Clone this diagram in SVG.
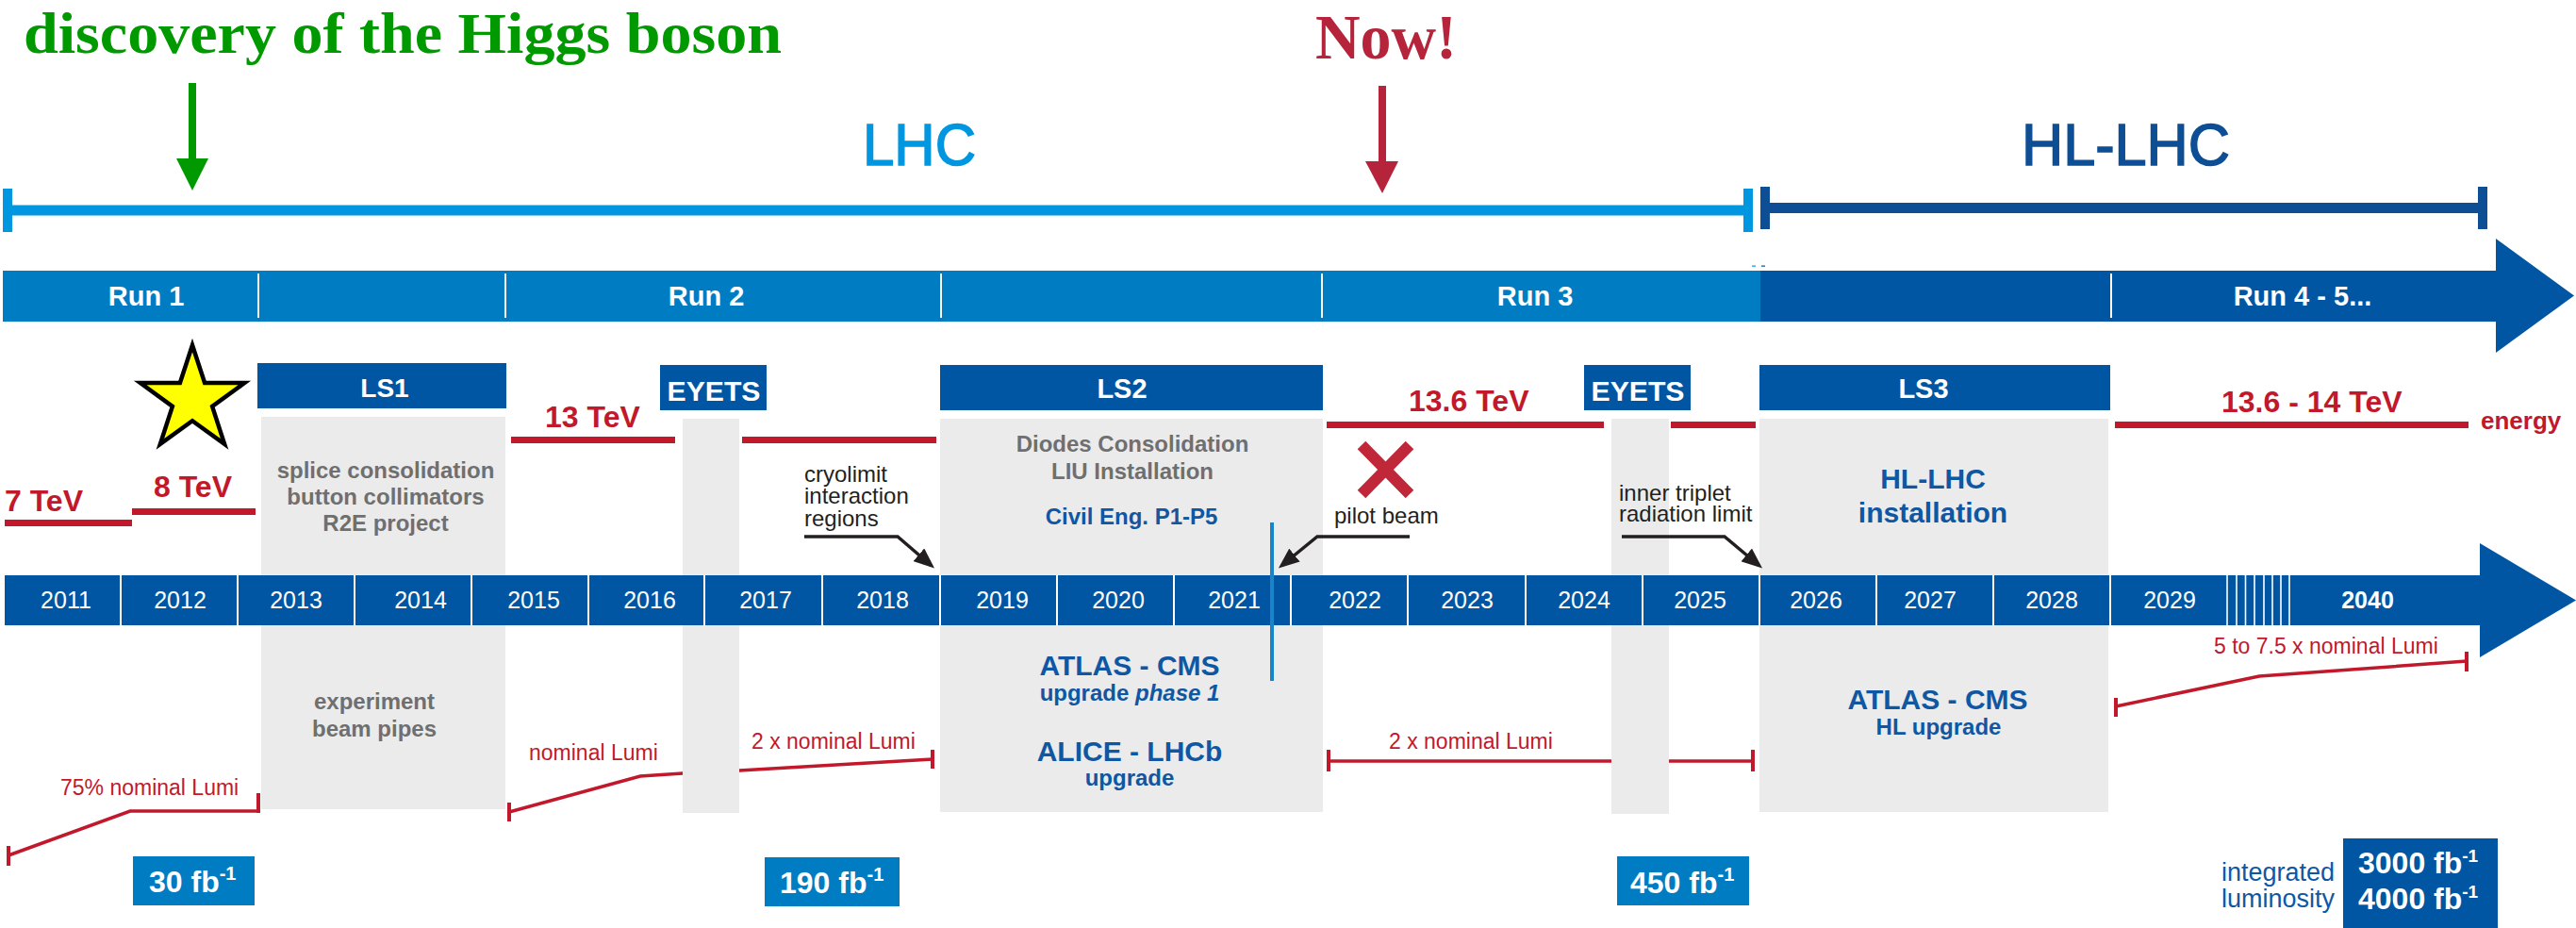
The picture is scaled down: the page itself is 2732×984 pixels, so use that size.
<svg xmlns="http://www.w3.org/2000/svg" width="2732" height="984" viewBox="0 0 2732 984">
<style>
text{font-family:"Liberation Sans",Arial,Helvetica,sans-serif}
.serif{font-family:"Liberation Serif","Times New Roman",serif;font-weight:bold}
.wb{fill:#fff;font-weight:bold;text-anchor:middle}
.yr{fill:#fff;font-size:25px;text-anchor:middle}
.en{fill:#c1192b;font-weight:bold;font-size:32px}
.gt{fill:#6f6f6f;font-weight:bold;font-size:24px;text-anchor:middle}
.bt{fill:#0f57a3;font-weight:bold;text-anchor:middle}
.kt{fill:#231f20;font-size:24px}
.lt{fill:#c1192b;font-size:23px}
.rl{fill:#c1192b}
.gray{fill:#ebebeb}
.dk{fill:#0056a2}
.lb{fill:#007cc2}
.lumi{stroke:#c1192b;stroke-width:3.5;fill:none}
.tick{stroke:#c1192b;stroke-width:4}
.call{stroke:#231f20;stroke-width:3.5;fill:none;marker-end:url(#ah)}
.sep{stroke:#fff;stroke-width:2}
.fb{fill:#fff;font-weight:bold;font-size:32px}
</style>
<defs>
<marker id="ah" markerUnits="userSpaceOnUse" markerWidth="22" markerHeight="18" refX="18" refY="9" orient="auto">
<path d="M0,0 L22,9 L0,18 z" fill="#231f20"/>
</marker>
</defs>

<!-- headline annotations -->
<g id="higgs-discovery">
<text class="serif" x="25" y="56" font-size="62" fill="#009a00" textLength="804" lengthAdjust="spacingAndGlyphs">discovery of the Higgs boson</text>
<rect x="200" y="88" width="8" height="82" fill="#009a00"/>
<polygon points="187,168 221,168 204,202" fill="#009a00"/>
</g>
<g id="now">
<text class="serif" x="1395" y="62" font-size="68" fill="#b5243a" textLength="150" lengthAdjust="spacingAndGlyphs">Now!</text>
<rect x="1462" y="91" width="8" height="82" fill="#b5243a"/>
<polygon points="1448,171 1483,171 1466,205" fill="#b5243a"/>
</g>

<!-- LHC / HL-LHC spans -->
<g id="lhc-span">
<text x="915" y="175" font-size="63" fill="#0096e0" stroke="#0096e0" stroke-width="1.5" textLength="120" lengthAdjust="spacingAndGlyphs">LHC</text>
<rect x="3" y="217.5" width="1850" height="11" fill="#0096e0"/>
<rect x="3" y="200" width="10" height="46" fill="#0096e0"/>
<rect x="1849" y="200" width="10" height="46" fill="#0096e0"/>
<rect x="1858" y="281.5" width="4" height="1.2" fill="#0096e0"/>
</g>
<g id="hllhc-span">
<text x="2144" y="175" font-size="63" fill="#0d4e94" stroke="#0d4e94" stroke-width="1.5" textLength="221" lengthAdjust="spacingAndGlyphs">HL-LHC</text>
<rect x="1872" y="215" width="760" height="11" fill="#0d4e94"/>
<rect x="1867" y="198" width="10" height="45" fill="#0d4e94"/>
<rect x="2628" y="198" width="10" height="45" fill="#0d4e94"/>
<rect x="1868" y="281.5" width="4" height="1.2" fill="#0d4e94"/>
</g>

<!-- Run bar -->
<g id="run-bar">
<rect class="lb" x="3" y="287" width="1864" height="54"/>
<rect class="dk" x="1867" y="287" width="781" height="54"/>
<polygon class="dk" points="2647,253 2730,313.5 2647,374"/>
<line class="sep" x1="274" y1="290" x2="274" y2="337"/>
<line class="sep" x1="536" y1="290" x2="536" y2="337"/>
<line class="sep" x1="998" y1="290" x2="998" y2="337"/>
<line class="sep" x1="1402" y1="290" x2="1402" y2="337"/>
<line class="sep" x1="2239" y1="290" x2="2239" y2="337"/>
<text class="wb" x="155" y="324" font-size="29">Run 1</text>
<text class="wb" x="749" y="324" font-size="29">Run 2</text>
<text class="wb" x="1628" y="324" font-size="29">Run 3</text>
<text class="wb" x="2442" y="324" font-size="29">Run 4 - 5...</text>
</g>

<!-- luminosity lines (behind shutdown columns) -->
<g id="lumi-75">
<polyline class="lumi" points="9,907 138,860 274,860"/>
<line class="tick" x1="9" y1="897" x2="9" y2="918"/>
<line class="tick" x1="274" y1="841" x2="274" y2="862"/>
<text class="lt" x="64" y="843">75% nominal Lumi</text>
</g>
<g id="lumi-run2">
<polyline class="lumi" points="540,861 679,823 724,820 784,817 989,805"/>
<line class="tick" x1="540" y1="851" x2="540" y2="871"/>
<line class="tick" x1="989" y1="795" x2="989" y2="815"/>
<text class="lt" x="561" y="806">nominal Lumi</text>
<text class="lt" x="797" y="794">2 x nominal Lumi</text>
</g>
<g id="lumi-run3">
<line class="lumi" x1="1409" y1="807" x2="1859" y2="807"/>
<line class="tick" x1="1409" y1="795" x2="1409" y2="818"/>
<line class="tick" x1="1859" y1="795" x2="1859" y2="818"/>
<text class="lt" x="1473" y="794">2 x nominal Lumi</text>
</g>
<g id="lumi-hl">
<polyline class="lumi" points="2244,749 2396,717 2616,701"/>
<line class="tick" x1="2244" y1="740" x2="2244" y2="760"/>
<line class="tick" x1="2616" y1="691" x2="2616" y2="712"/>
<text class="lt" x="2348" y="693">5 to 7.5 x nominal Lumi</text>
</g>

<!-- shutdowns -->
<g id="ls1">
<rect class="gray" x="277" y="442" width="259" height="416"/>
<rect class="dk" x="273" y="385" width="264" height="48"/>
<text class="wb" x="408" y="421" font-size="28">LS1</text>
<text class="gt" x="409" y="507">splice consolidation</text>
<text class="gt" x="409" y="535">button collimators</text>
<text class="gt" x="409" y="563">R2E project</text>
<text class="gt" x="397" y="752">experiment</text>
<text class="gt" x="397" y="781">beam pipes</text>
</g>
<g id="eyets1">
<rect class="gray" x="724" y="444" width="60" height="418"/>
<rect class="dk" x="700" y="387" width="113" height="48"/>
<text class="wb" x="757" y="425" font-size="29" textLength="99" lengthAdjust="spacingAndGlyphs">EYETS</text>
</g>
<g id="ls2">
<rect class="gray" x="997" y="444" width="406" height="417"/>
<rect class="dk" x="997" y="387" width="406" height="48"/>
<text class="wb" x="1190" y="422" font-size="29">LS2</text>
<text class="gt" x="1201" y="479">Diodes Consolidation</text>
<text class="gt" x="1201" y="508">LIU Installation</text>
<text class="bt" x="1200" y="556" font-size="24">Civil Eng. P1-P5</text>
<text class="bt" x="1198" y="716" font-size="30">ATLAS - CMS</text>
<text class="bt" x="1198" y="743" font-size="24">upgrade <tspan font-style="italic">phase 1</tspan></text>
<text class="bt" x="1198" y="807" font-size="30">ALICE - LHCb</text>
<text class="bt" x="1198" y="833" font-size="24">upgrade</text>
</g>
<g id="eyets2">
<rect class="gray" x="1709" y="444" width="61" height="419"/>
<rect class="dk" x="1680" y="387" width="113" height="48"/>
<text class="wb" x="1737" y="425" font-size="29" textLength="99" lengthAdjust="spacingAndGlyphs">EYETS</text>
</g>
<g id="ls3">
<rect class="gray" x="1866" y="444" width="370" height="417"/>
<rect class="dk" x="1866" y="387" width="372" height="48"/>
<text class="wb" x="2040" y="422" font-size="29">LS3</text>
<text class="bt" x="2050" y="518" font-size="30">HL-LHC</text>
<text class="bt" x="2050" y="554" font-size="30">installation</text>
<text class="bt" x="2055" y="752" font-size="30">ATLAS - CMS</text>
<text class="bt" x="2056" y="779" font-size="24">HL upgrade</text>
</g>

<!-- energy -->
<g id="energy">
<rect class="rl" x="5" y="551" width="135" height="7"/>
<rect class="rl" x="140" y="539" width="131" height="7"/>
<rect class="rl" x="542" y="463" width="174" height="7"/>
<rect class="rl" x="787" y="463" width="206" height="7"/>
<rect class="rl" x="1407" y="447" width="294" height="7"/>
<rect class="rl" x="1772" y="447" width="90" height="7"/>
<rect class="rl" x="2243" y="447" width="375" height="7"/>
<text class="en" x="5" y="542">7 TeV</text>
<text class="en" x="163" y="527">8 TeV</text>
<text class="en" x="578" y="453">13 TeV</text>
<text class="en" x="1494" y="436">13.6 TeV</text>
<text class="en" x="2356" y="437">13.6 - 14 TeV</text>
<text x="2631" y="455" fill="#c1192b" font-weight="bold" font-size="26">energy</text>
</g>

<g id="higgs-star">
<polygon points="204,366 217.1,406 259.2,406.1 225.1,430.9 238.1,470.9 204,446.2 169.9,470.9 182.9,430.9 148.8,406.1 190.9,406" fill="#ffff00" stroke="#000" stroke-width="4.5" stroke-linejoin="miter"/>
</g>

<g id="pilot-beam">
<path d="M1444,472 L1495,524 M1495,472 L1444,524" stroke="#c0283a" stroke-width="12" fill="none"/>
<text class="kt" x="1415" y="555">pilot beam</text>
</g>
<g id="cryolimit">
<text class="kt" x="853" y="511">cryolimit</text>
<text class="kt" x="853" y="534">interaction</text>
<text class="kt" x="853" y="558">regions</text>
</g>
<g id="inner-triplet">
<text class="kt" x="1717" y="531">inner triplet</text>
<text class="kt" x="1717" y="553">radiation limit</text>
</g>

<!-- year bar -->
<g id="year-bar">
<rect class="dk" x="5" y="610" width="2626" height="53"/>
<polygon class="dk" points="2630,576 2732,636.5 2630,697"/>
<g stroke="#fff" stroke-width="2">
<line x1="128" y1="610" x2="128" y2="663"/>
<line x1="252" y1="610" x2="252" y2="663"/>
<line x1="376" y1="610" x2="376" y2="663"/>
<line x1="500" y1="610" x2="500" y2="663"/>
<line x1="624" y1="610" x2="624" y2="663"/>
<line x1="747" y1="610" x2="747" y2="663"/>
<line x1="872" y1="610" x2="872" y2="663"/>
<line x1="997" y1="610" x2="997" y2="663"/>
<line x1="1121" y1="610" x2="1121" y2="663"/>
<line x1="1245" y1="610" x2="1245" y2="663"/>
<line x1="1369" y1="610" x2="1369" y2="663"/>
<line x1="1493" y1="610" x2="1493" y2="663"/>
<line x1="1618" y1="610" x2="1618" y2="663"/>
<line x1="1742" y1="610" x2="1742" y2="663"/>
<line x1="1866" y1="610" x2="1866" y2="663"/>
<line x1="1990" y1="610" x2="1990" y2="663"/>
<line x1="2114" y1="610" x2="2114" y2="663"/>
<line x1="2238" y1="610" x2="2238" y2="663"/>
</g>
<g stroke="#fff" stroke-width="1.6">
<line x1="2362" y1="610" x2="2362" y2="663"/>
<line x1="2372" y1="610" x2="2372" y2="663"/>
<line x1="2381.5" y1="610" x2="2381.5" y2="663"/>
<line x1="2391" y1="610" x2="2391" y2="663"/>
<line x1="2401" y1="610" x2="2401" y2="663"/>
<line x1="2410" y1="610" x2="2410" y2="663"/>
<line x1="2419" y1="610" x2="2419" y2="663"/>
<line x1="2428" y1="610" x2="2428" y2="663"/>
</g>
<text class="yr" x="70" y="645">2011</text>
<text class="yr" x="191" y="645">2012</text>
<text class="yr" x="314" y="645">2013</text>
<text class="yr" x="446" y="645">2014</text>
<text class="yr" x="566" y="645">2015</text>
<text class="yr" x="689" y="645">2016</text>
<text class="yr" x="812" y="645">2017</text>
<text class="yr" x="936" y="645">2018</text>
<text class="yr" x="1063" y="645">2019</text>
<text class="yr" x="1186" y="645">2020</text>
<text class="yr" x="1309" y="645">2021</text>
<text class="yr" x="1437" y="645">2022</text>
<text class="yr" x="1556" y="645">2023</text>
<text class="yr" x="1680" y="645">2024</text>
<text class="yr" x="1803" y="645">2025</text>
<text class="yr" x="1926" y="645">2026</text>
<text class="yr" x="2047" y="645">2027</text>
<text class="yr" x="2176" y="645">2028</text>
<text class="yr" x="2301" y="645">2029</text>
<text class="yr" x="2511" y="645" font-weight="bold">2040</text>
</g>

<g id="now-marker">
<rect x="1347" y="554" width="4" height="168" fill="#1a84c8"/>
</g>

<!-- integrated luminosity -->
<g id="lumi-30">
<rect class="lb" x="141" y="908" width="129" height="52"/>
<text class="fb" x="158" y="946">30 fb<tspan font-size="20" dy="-13">-1</tspan></text>
</g>
<g id="lumi-190">
<rect class="lb" x="811" y="909" width="143" height="52"/>
<text class="fb" x="827" y="947">190 fb<tspan font-size="20" dy="-13">-1</tspan></text>
</g>
<g id="lumi-450">
<rect class="lb" x="1715" y="908" width="140" height="52"/>
<text class="fb" x="1729" y="947">450 fb<tspan font-size="20" dy="-13">-1</tspan></text>
</g>
<g id="lumi-hl-total">
<text x="2356" y="934" fill="#0f57a3" font-size="27">integrated</text>
<text x="2356" y="962" fill="#0f57a3" font-size="27">luminosity</text>
<rect class="dk" x="2485" y="889" width="164" height="95"/>
<text class="fb" x="2501" y="926" font-size="30">3000 fb<tspan font-size="19" dy="-12">-1</tspan></text>
<text class="fb" x="2501" y="964" font-size="30">4000 fb<tspan font-size="19" dy="-12">-1</tspan></text>
</g>

<!-- connectors -->
<g id="connectors">
<polyline class="call" points="853,569 952,569 988,600"/>
<polyline class="call" points="1495,569 1397,569 1359,600"/>
<polyline class="call" points="1720,569 1829,569 1866,600"/>
</g>
</svg>
